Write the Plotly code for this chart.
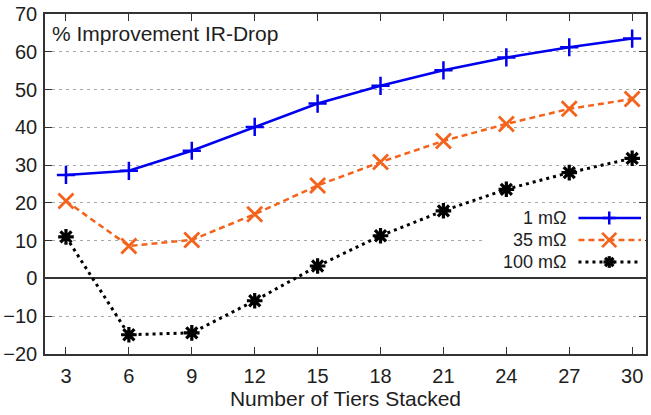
import plotly.graph_objects as go

tiers = [3, 6, 9, 12, 15, 18, 21, 24, 27, 30]
imp_1m = [27.4, 28.5, 33.8, 40.1, 46.3, 51.0, 55.1, 58.5, 61.2, 63.5]
imp_35m = [20.5, 8.6, 10.2, 17.0, 24.6, 30.8, 36.4, 40.9, 44.9, 47.5]
imp_100m = [11.0, -14.9, -14.4, -5.9, 3.3, 11.3, 17.9, 23.6, 28.0, 31.8]
series_names = ["1 m\u03a9", "35 m\u03a9", "100 m\u03a9"]
x_ticks = tiers
y_ticks = [-20, -10, 0, 10, 20, 30, 40, 50, 60, 70]

W, H = 651, 415
L, R, T, B = 43, 648, 14, 354  # plot area in pixels

FONT = "Liberation Sans, Arial, sans-serif"
TXT = "#1e1e1e"

styles = [
    dict(color="#0000ee", dash="solid", width=2.5, symbol="cross-thin-open", size=13, mlw=2.5, kind="plus"),
    dict(color="#f4631c", dash="6px,4px", width=2.5, symbol="x-thin-open", size=15, mlw=2.8, kind="x"),
    dict(color="#000000", dash="3px,4px", width=3, symbol="asterisk-open", size=13, mlw=3.2, kind="star"),
]
data = [imp_1m, imp_35m, imp_100m]

fig = go.Figure()
for vals, st, nm in zip(data, styles, series_names):
    fig.add_trace(go.Scatter(
        x=tiers, y=vals, mode="lines+markers", name=nm, showlegend=False,
        line=dict(color=st["color"], dash=st["dash"], width=st["width"]),
        marker=dict(symbol=st["symbol"], size=st["size"],
                    line=dict(color=st["color"], width=st["mlw"])),
    ))

def px2x(px):
    return (px - L) / (R - L)

def py2y(py):
    return (B - py) / (B - T)

annotations = [
    dict(text="% Improvement IR-Drop", x=px2x(48), y=py2y(33), xref="paper", yref="paper",
         xanchor="left", yanchor="middle", showarrow=False,
         font=dict(family=FONT, size=21, color=TXT)),
]

# legend box (white, covers grid) and keys drawn as shapes on top
shapes = [
    dict(type="rect", xref="paper", yref="paper", x0=px2x(486), x1=px2x(R - 1),
         y0=py2y(273), y1=py2y(207), fillcolor="white", line=dict(width=0), layer="above"),
]
rows_y = [218, 240, 262]
kx0, kx1, kc = 580, 643, 611
for st, nm, ry in zip(styles, series_names, rows_y):
    annotations.append(dict(text=nm, x=px2x(569), y=py2y(ry), xref="paper", yref="paper",
                            xanchor="right", yanchor="middle", showarrow=False,
                            font=dict(family=FONT, size=18, color=TXT)))
    shapes.append(dict(type="line", xref="paper", yref="paper",
                       x0=px2x(kx0), x1=px2x(kx1), y0=py2y(ry), y1=py2y(ry),
                       line=dict(color=st["color"], width=st["width"], dash=st["dash"]),
                       layer="above"))
    h = st["size"] / 2
    segs = []
    if st["kind"] in ("plus", "star"):
        hh = h if st["kind"] == "plus" else h * 0.9
        segs += [(-hh, 0, hh, 0), (0, -hh, 0, hh)]
    if st["kind"] in ("x", "star"):
        d = h * 0.95 if st["kind"] == "x" else h * 0.65
        segs += [(-d, -d, d, d), (-d, d, d, -d)]
    for a, b, c, e in segs:
        shapes.append(dict(type="line", xref="paper", yref="paper",
                           x0=px2x(kc + a), y0=py2y(ry + b), x1=px2x(kc + c), y1=py2y(ry + e),
                           line=dict(color=st["color"], width=st["mlw"]), layer="above"))

fig.update_layout(
    width=W, height=H,
    margin=dict(l=L, r=W - R, t=T, b=H - B),
    paper_bgcolor="white", plot_bgcolor="white",
    font=dict(family=FONT, size=20, color=TXT),
    xaxis=dict(range=[2, 30.66], tickvals=x_ticks, ticks="inside", ticklen=7, tickwidth=1.2,
               tickcolor="#333", showline=True, linecolor="#333", linewidth=1.5, mirror="allticks",
               showgrid=False, zeroline=False, ticklabelstandoff=3,
               title=dict(text="Number of Tiers Stacked", font=dict(size=21), standoff=2),
               tickfont=dict(size=20)),
    yaxis=dict(range=[-20, 70], tickvals=y_ticks, ticks="inside", ticklen=7, tickwidth=1.2,
               tickcolor="#333", showline=True, linecolor="#333", linewidth=1.5, mirror="allticks",
               showgrid=True, gridcolor="#a8a8a8", griddash="3px,4px", gridwidth=1,
               zeroline=True, zerolinecolor="#333", zerolinewidth=1.5,
               tickfont=dict(size=20), ticklabelstandoff=2),
    annotations=annotations, shapes=shapes,
)

fig.write_html("out.html")
